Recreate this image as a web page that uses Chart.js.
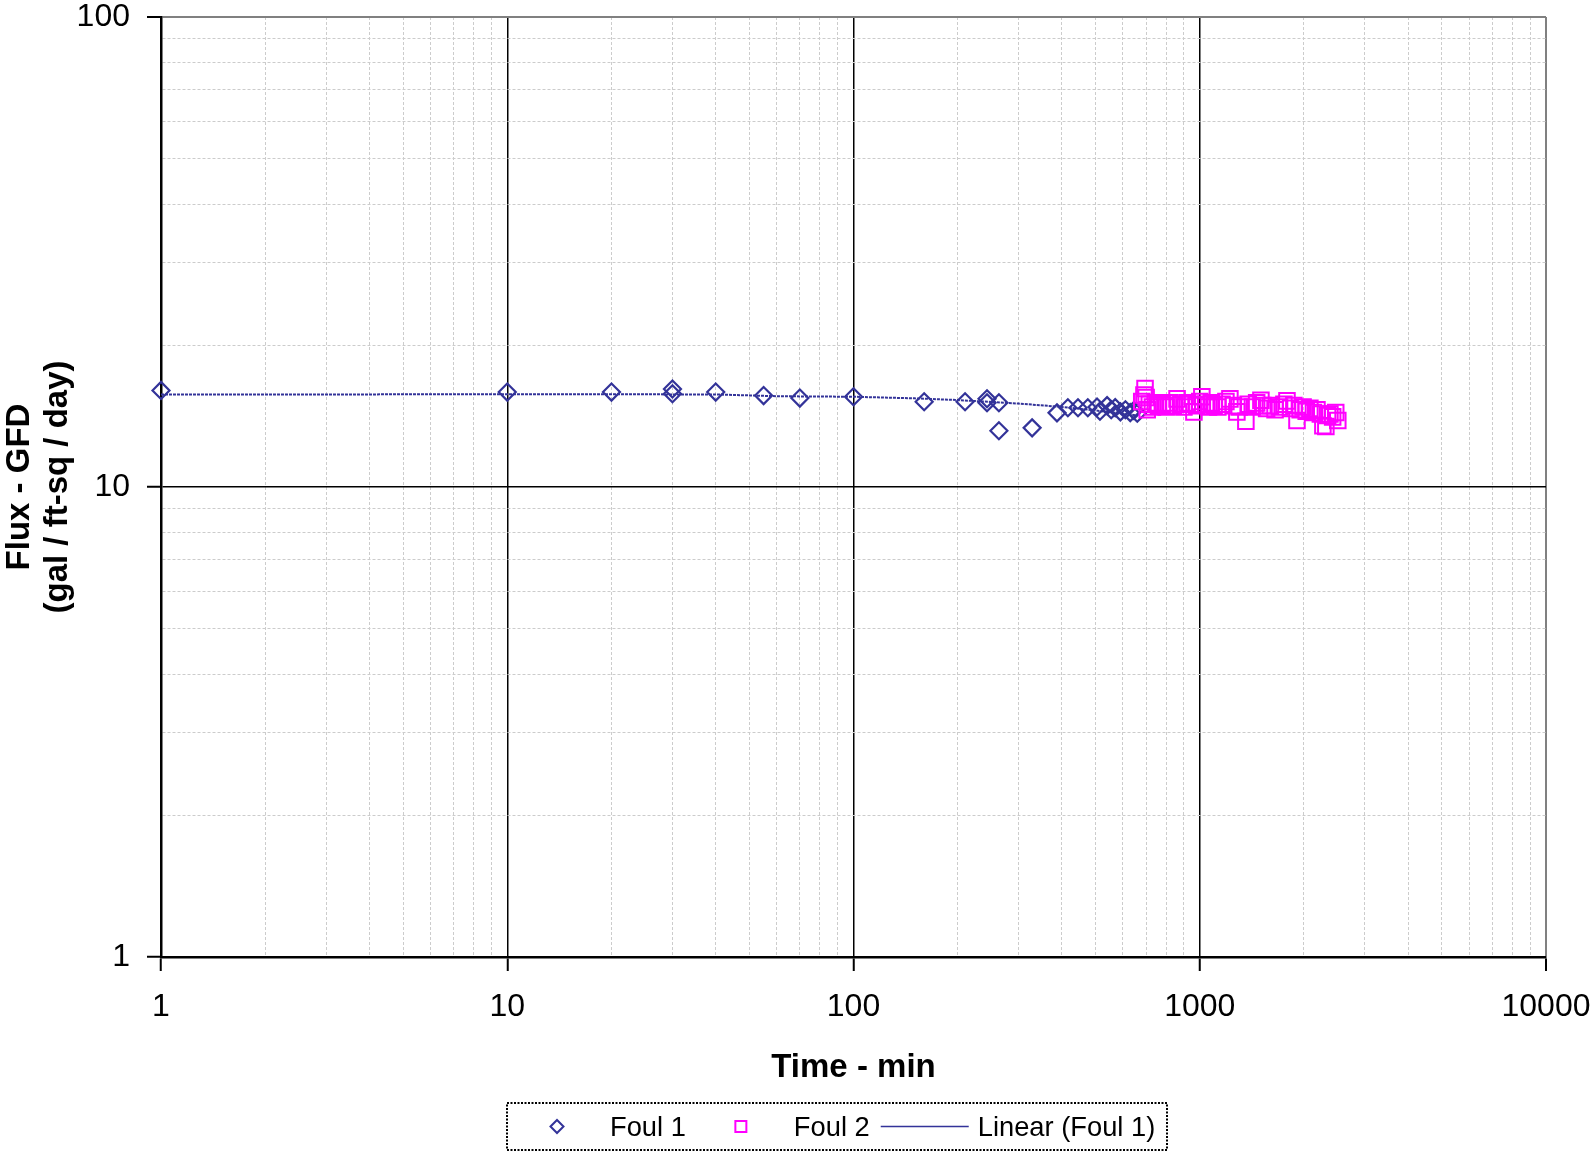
<!DOCTYPE html>
<html>
<head>
<meta charset="utf-8">
<title>Flux vs time</title>
<script src="https://cdn.jsdelivr.net/npm/chart.js@4.4.0/dist/chart.umd.min.js"></script>
<style>
  html, body { margin: 0; padding: 0; background: #fff; }
  #wrap { width: 1595px; height: 1154px; }
</style>
</head>
<body>
<div id="wrap"><canvas id="flux-chart" width="1595" height="1154"></canvas></div>
<script>
// decade labels on both log axes
const X_LABELS = [1, 10, 100, 1000, 10000];
const Y_LABELS = [1, 10, 100];
const MINOR_STEPS = [2, 3, 4, 5, 6, 7, 8, 9];

// Foul 1 run (min, GFD)
const FOUL1_TIME = [1, 10, 20, 30, 30, 40, 55, 70, 100, 160, 210, 243, 243, 263, 263, 328,
  387, 416, 445, 475, 505, 515, 540, 555, 570, 590, 610, 630, 645, 660];
const FOUL1_FLUX = [16.05, 15.92, 15.92, 16.16, 15.79, 15.92, 15.65, 15.46, 15.56, 15.18, 15.18,
  15.41, 15.11, 15.11, 13.17, 13.36, 14.38, 14.74, 14.74, 14.74, 14.8, 14.5, 14.9, 14.6, 14.75,
  14.45, 14.6, 14.4, 14.55, 14.35];

// Foul 2 run (min, GFD)
const FOUL2_TIME = [680, 690, 695, 700, 705, 715, 730, 745, 760, 780, 800, 820, 840, 860, 880,
  900, 920, 940, 962, 980, 1000, 1014, 1040, 1060, 1080, 1100, 1128, 1160, 1190, 1222, 1250,
  1280, 1300, 1359, 1380, 1420, 1460, 1502, 1521, 1560, 1600, 1650, 1700, 1750, 1786, 1830,
  1870, 1909, 1950, 1988, 2030, 2080, 2130, 2180, 2230, 2268, 2313, 2340, 2376, 2420, 2470, 2504];
const FOUL2_FLUX = [15.2, 15.7, 16.2, 15.5, 14.6, 15.0, 14.8, 15.1, 14.9, 15.0, 14.8, 15.1, 14.9,
  15.4, 15.0, 14.8, 15.1, 15.0, 14.45, 14.9, 15.2, 15.56, 15.0, 14.8, 15.1, 14.9, 14.8, 15.0,
  15.2, 15.4, 14.9, 14.45, 14.8, 13.8, 15.0, 14.8, 15.1, 15.3, 14.9, 14.7, 14.9, 14.6, 14.8,
  15.0, 15.25, 14.7, 14.9, 13.85, 14.6, 14.8, 14.5, 14.7, 14.4, 14.6, 14.3, 13.5, 13.45, 14.2,
  14.3, 14.1, 14.4, 13.85];

// linear trend of Foul 1
const TREND_TIME = [1, 10, 40, 60, 100, 150, 200, 300, 400, 500, 660];
const TREND_FLUX = [15.73, 15.75, 15.74, 15.6, 15.56, 15.44, 15.31, 15.05, 14.8, 14.55, 14.2];

const NAVY = "#333399";
const MAGENTA = "#ff00ff";
const FONT = '"Liberation Sans", Arial, Helvetica, sans-serif';

function points(xs, ys) {
  return xs.map(function (x, i) {
    return { x: x, y: ys[i] };
  });
}

function gridValues(labels) {
  const out = [];
  labels.forEach(function (d, i) {
    out.push(d);
    if (i < labels.length - 1) {
      MINOR_STEPS.forEach(function (s) {
        out.push(d * s);
      });
    }
  });
  return out;
}

function logAxis(labels, edgeValue) {
  const major = function (v) {
    return labels.indexOf(v) !== -1;
  };
  return {
    type: "logarithmic",
    min: labels[0],
    max: labels[labels.length - 1],
    afterBuildTicks: function (scale) {
      scale.ticks = gridValues(labels).map(function (v) {
        return { value: v };
      });
    },
    ticks: {
      autoSkip: false,
      maxRotation: 0,
      padding: 17,
      color: "#000",
      font: { size: 32, family: FONT },
      callback: function (value) {
        return major(value) ? String(value) : "";
      },
    },
    grid: {
      color: function (c) {
        const v = c.tick && c.tick.value;
        if (v === edgeValue) return "#808080";
        return major(v) ? "#000" : "#cccccc";
      },
      lineWidth: function (c) {
        const v = c.tick && c.tick.value;
        if (v === edgeValue) return 2;
        return major(v) ? 1.5 : 1;
      },
      tickColor: function (c) {
        return c.tick && major(c.tick.value) ? "#000" : "rgba(0,0,0,0)";
      },
      tickLength: 14,
      tickWidth: 2,
    },
    border: {
      display: true,
      color: "#000",
      width: 2.5,
      dash: function (c) {
        return c.tick && !major(c.tick.value) ? [3, 2] : [];
      },
    },
  };
}

const xAxis = logAxis(X_LABELS, 10000);
xAxis.title = {
  display: true,
  text: "Time - min",
  color: "#000",
  font: { size: 33, weight: "bold", family: FONT, lineHeight: 1.2 },
  padding: { top: 0, bottom: 6 },
};
xAxis.afterFit = function (scale) {
  scale.height = 137;
  scale.paddingLeft = 0;
  scale.paddingRight = 0;
};

const yAxis = logAxis(Y_LABELS, 100);
yAxis.title = {
  display: true,
  text: ["Flux - GFD", "(gal / ft-sq / day)"],
  color: "#000",
  font: { size: 33, weight: "bold", family: FONT, lineHeight: 1.15 },
  padding: { top: 1, bottom: 0 },
};
yAxis.afterFit = function (scale) {
  scale.width = 161;
  scale.paddingTop = 0;
  scale.paddingBottom = 0;
};

// boxed legend under the axis title
const boxLegend = {
  id: "boxLegend",
  afterDraw: function (chart) {
    const ctx = chart.ctx;
    const left = 507, top = 1103, width = 660, height = 47;
    const cy = top + height / 2;
    const slot = 88;
    ctx.save();
    ctx.strokeStyle = "#000";
    ctx.lineWidth = 2;
    ctx.setLineDash([2, 1.5]);
    ctx.strokeRect(left, top, width, height);
    ctx.setLineDash([]);

    ctx.font = "27.3px " + FONT;
    ctx.fillStyle = "#000";
    ctx.textBaseline = "middle";
    ctx.textAlign = "left";

    const items = [
      { text: "Foul 1", mark: "diamond" },
      { text: "Foul 2", mark: "square" },
      { text: "Linear (Foul 1)", mark: "line" },
    ];
    let x = left + 6;
    items.forEach(function (it) {
      const cx = x + slot / 2;
      ctx.lineWidth = 2;
      if (it.mark === "diamond") {
        ctx.strokeStyle = NAVY;
        ctx.beginPath();
        ctx.moveTo(cx - 6.5, cy);
        ctx.lineTo(cx, cy - 6.5);
        ctx.lineTo(cx + 6.5, cy);
        ctx.lineTo(cx, cy + 6.5);
        ctx.closePath();
        ctx.stroke();
      } else if (it.mark === "square") {
        ctx.strokeStyle = MAGENTA;
        ctx.strokeRect(cx - 5.5, cy - 5.5, 11, 11);
      } else {
        ctx.strokeStyle = NAVY;
        ctx.lineWidth = 1.5;
        ctx.beginPath();
        ctx.moveTo(x, cy);
        ctx.lineTo(x + slot, cy);
        ctx.stroke();
      }
      const tx = x + slot + 9;
      ctx.fillText(it.text, tx, cy + 2);
      x = tx + ctx.measureText(it.text).width + 11;
    });
    ctx.restore();
  },
};

new Chart(document.getElementById("flux-chart"), {
  type: "scatter",
  data: {
    datasets: [
      {
        label: "Foul 2",
        data: points(FOUL2_TIME, FOUL2_FLUX),
        pointStyle: "rect",
        pointRadius: 11,
        pointBorderWidth: 2,
        borderColor: MAGENTA,
        backgroundColor: "rgba(0,0,0,0)",
        order: 0,
        clip: false,
      },
      {
        label: "Linear (Foul 1)",
        data: points(TREND_TIME, TREND_FLUX),
        showLine: true,
        pointRadius: 0,
        borderColor: NAVY,
        borderWidth: 2,
        borderDash: [3, 1],
        order: 1,
        clip: false,
      },
      {
        label: "Foul 1",
        data: points(FOUL1_TIME, FOUL1_FLUX),
        pointStyle: "rectRot",
        pointRadius: 8.5,
        pointBorderWidth: 2.2,
        borderColor: NAVY,
        backgroundColor: "rgba(0,0,0,0)",
        order: 2,
        clip: false,
      },
    ],
  },
  options: {
    responsive: false,
    animation: false,
    devicePixelRatio: 1,
    layout: { padding: { top: 17, right: 49, bottom: 60, left: 0 } },
    plugins: {
      legend: { display: false },
      tooltip: { enabled: false },
    },
    scales: { x: xAxis, y: yAxis },
  },
  plugins: [boxLegend],
});
</script>
</body>
</html>
